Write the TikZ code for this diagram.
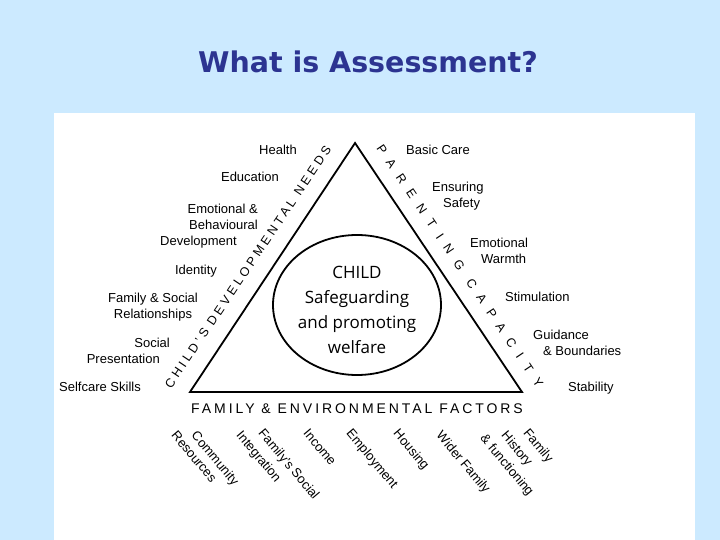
\documentclass[tikz,border=0pt]{standalone}
\usepackage{fontspec}
\setmainfont{Liberation Sans}
\newfontfamily\titlefont{DejaVu Sans}
\newfontfamily\circfont{Open Sans}
\usetikzlibrary{calc}
\definecolor{bgblue}{RGB}{204,234,255}
\definecolor{titleblue}{RGB}{44,52,145}
\begin{document}
\begin{tikzpicture}[x=1pt,y=-1pt,
  titletext/.style={font=\titlefont\bfseries\fontsize{28.5}{32}\selectfont, text=titleblue, inner sep=0pt, anchor=base},
  lbl/.style={font=\fontsize{13}{16}\selectfont, inner sep=0pt},
  botlbl/.style={font=\fontsize{13}{16}\selectfont, inner sep=0pt, rotate=-50, anchor=base west},
  sideL/.style={font=\fontsize{12.5}{14}\selectfont\addfontfeatures{LetterSpace=27}, inner sep=0pt},
  sideR/.style={font=\fontsize{12.5}{14}\selectfont\addfontfeatures{LetterSpace=76}, inner sep=0pt},
  sideB/.style={font=\fontsize{14}{16}\selectfont\addfontfeatures{LetterSpace=21}, inner sep=0pt},
  circtext/.style={font=\circfont\fontsize{17}{25}\selectfont, align=center, inner sep=0pt},
  outline/.style={line width=1.8pt, line join=miter}
]
\useasboundingbox (0,0) rectangle (720,540);
\fill[bgblue] (0,0) rectangle (720,540);
\fill[white] (54,113) rectangle (695,540);

\node[titletext] (title) at (368,73) {What is Assessment?};

\coordinate (apex) at (355,143);
\coordinate (bl) at (190,392);
\coordinate (br) at (522,392);
\draw[outline] (apex) -- (bl) -- (br) -- cycle;

\coordinate (circc) at (357,305);
\draw[outline] (circc) ellipse [x radius=84pt, y radius=70pt];
\node[circtext] (child) at (357,310) {CHILD\\Safeguarding\\and promoting\\welfare};

\node[sideL, rotate=56.2] (cdn) at (248,267) {CHILD'S DEVELOPMENTAL NEEDS};
\node[sideR, rotate=-56.2] (pc) at (460,266) {PARENTING CAPACITY};
\node[sideB] (fef) at (357,409) {FAMILY \& ENVIRONMENTAL FACTORS};

% left labels
\node[lbl] (health) at (278,150) {Health};
\node[lbl] (edu) at (250,177) {Education};
\node[lbl, align=right, anchor=east] (emo) at (258,226) {Emotional \&\\Behavioural\hspace*{10pt}\\Development\hspace*{21pt}};
\node[lbl] (ident) at (196,271) {Identity};
\node[lbl, align=center] (fam) at (153,307) {Family \& Social\\Relationships};
\node[lbl, align=right, anchor=east] (soc) at (170,351) {Social\\Presentation\hspace*{10pt}};
\node[lbl] (self) at (100,387) {Selfcare Skills};

% right labels
\node[lbl] (basic) at (438,150) {Basic Care};
\node[lbl, align=left, anchor=west] (safe) at (432,196) {Ensuring\\\hspace*{11pt}Safety};
\node[lbl, align=left, anchor=west] (warm) at (470,251) {Emotional\\\hspace*{11pt}Warmth};
\node[lbl, anchor=west] (stim) at (505,297) {Stimulation};
\node[lbl, align=left, anchor=west] (guid) at (533,343) {Guidance\\\hspace*{10pt}\& Boundaries};
\node[lbl, anchor=west] (stab) at (568,388) {Stability};

% bottom labels
\node[botlbl] (comm1) at (190.7,435.7) {Community};
\node[botlbl] (comm2) at (170.7,435.7) {Resources};
\node[botlbl] (fsi1) at (257.7,433.7) {Family's Social};
\node[botlbl] (fsi2) at (235.7,435.7) {Integration};
\node[botlbl] (inc) at (302.7,433.7) {Income};
\node[botlbl] (emp) at (345.7,433.7) {Employment};
\node[botlbl] (hous) at (392.7,433.7) {Housing};
\node[botlbl] (wider) at (435.7,435.7) {Wider Family};
\node[botlbl] (fh1) at (522.7,433.7) {Family};
\node[botlbl] (fh2) at (500.7,435.7) {History};
\node[botlbl] (fh3) at (479.7,438.7) {\& functioning};
\end{tikzpicture}
\end{document}
